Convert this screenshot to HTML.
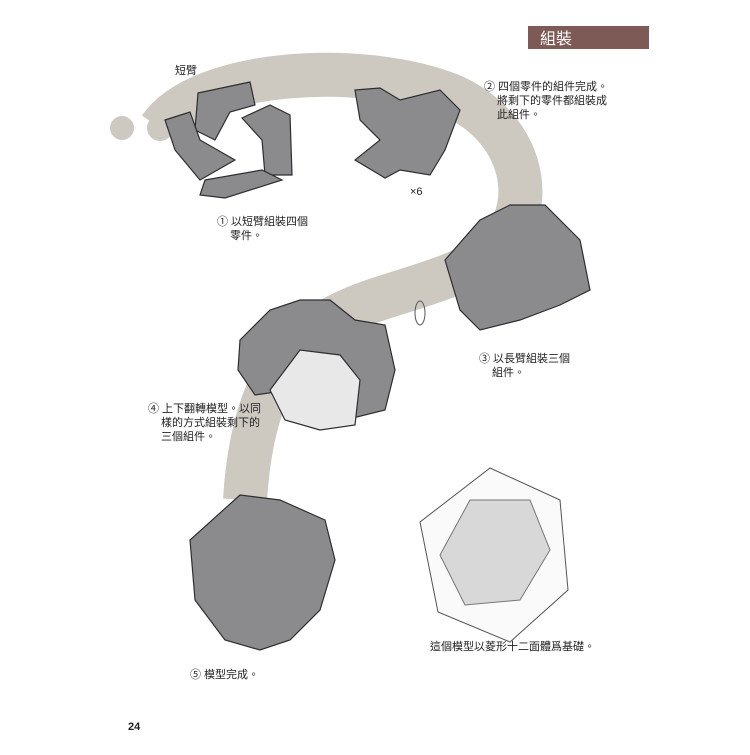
<!DOCTYPE html>
<html><head><meta charset="utf-8"><style>
body{margin:0;background:#fff;}
.t{font-family:"Liberation Sans","Noto Sans CJK TC",sans-serif;font-size:11px;fill:#222;}
</style></head><body>
<svg width="750" height="750" xmlns="http://www.w3.org/2000/svg">
<rect width="750" height="750" fill="#fff"/>
<!-- band -->
<circle cx="122" cy="128" r="12" fill="#cdc9c1"/>
<path d="M160,128 C200,70 360,60 450,95 C520,125 540,200 500,245 C460,285 380,290 330,320 C270,355 250,420 245,500" fill="none" stroke="#cdc9c1" stroke-width="44"/>
<circle cx="160" cy="128" r="13" fill="#cdc9c1"/>
<!-- header -->
<rect x="528" y="26" width="121" height="23" fill="#7d5a55"/>
<text x="540" y="44" font-family="Liberation Sans,Noto Sans CJK TC,sans-serif" font-size="16" fill="#fff">組裝</text>
<g fill="#8b8b8e" stroke="#2e2e2e" stroke-width="1.2">
<!-- step1 -->
<polygon points="198,93 250,82 255,105 230,112 215,140 195,130"/>
<polygon points="165,120 190,112 200,140 235,160 200,180 175,150"/>
<polygon points="242,118 270,105 290,115 292,175 265,175 262,140"/>
<polygon points="205,180 262,170 282,180 225,198 200,195"/>
<!-- step2 -->
<polygon points="355,90 380,88 400,100 440,90 460,110 445,150 430,175 400,170 385,178 355,160 380,140 360,120"/>
<!-- step3 -->
<polygon points="445,260 480,220 510,205 545,205 580,240 590,290 560,305 520,320 480,330 460,310"/>
<!-- step4 -->
<polygon points="240,340 270,310 300,300 330,300 355,320 385,325 395,370 385,410 345,420 320,400 290,390 255,395 238,370"/>
<polygon points="270,390 300,350 340,355 360,380 355,425 320,430 285,420" fill="#e8e8e8"/>
<!-- step5 -->
<polygon points="240,495 280,500 325,520 335,560 320,610 290,640 260,650 225,640 195,600 190,540"/>
</g>
<!-- dodecahedron -->
<polygon points="490,468 560,500 568,590 510,642 438,612 420,522" fill="#fafafa" stroke="#555" stroke-width="1"/>
<polygon points="470,500 530,500 550,550 520,600 465,605 440,555" fill="#d8d8d8" stroke="#777" stroke-width="1"/>
<ellipse cx="420" cy="313" rx="5" ry="12" fill="none" stroke="#555"/>
<text class="t" x="175" y="74">短臂</text>
<text class="t" x="217" y="225">① 以短臂組裝四個</text>
<text class="t" x="230" y="239">零件。</text>
<text class="t" x="484" y="90">② 四個零件的組件完成。</text>
<text class="t" x="497" y="104">將剩下的零件都組裝成</text>
<text class="t" x="497" y="118">此組件。</text>
<text class="t" x="410" y="195" font-size="9">×6</text>
<text class="t" x="479" y="362">③ 以長臂組裝三個</text>
<text class="t" x="492" y="376">組件。</text>
<text class="t" x="148" y="412">④ 上下翻轉模型。以同</text>
<text class="t" x="161" y="426">樣的方式組裝剩下的</text>
<text class="t" x="161" y="440">三個組件。</text>
<text class="t" x="190" y="678">⑤ 模型完成。</text>
<text class="t" x="430" y="650">這個模型以菱形十二面體爲基礎。</text>
<text class="t" x="128" y="730" font-weight="bold">24</text>
</svg>
</body></html>
